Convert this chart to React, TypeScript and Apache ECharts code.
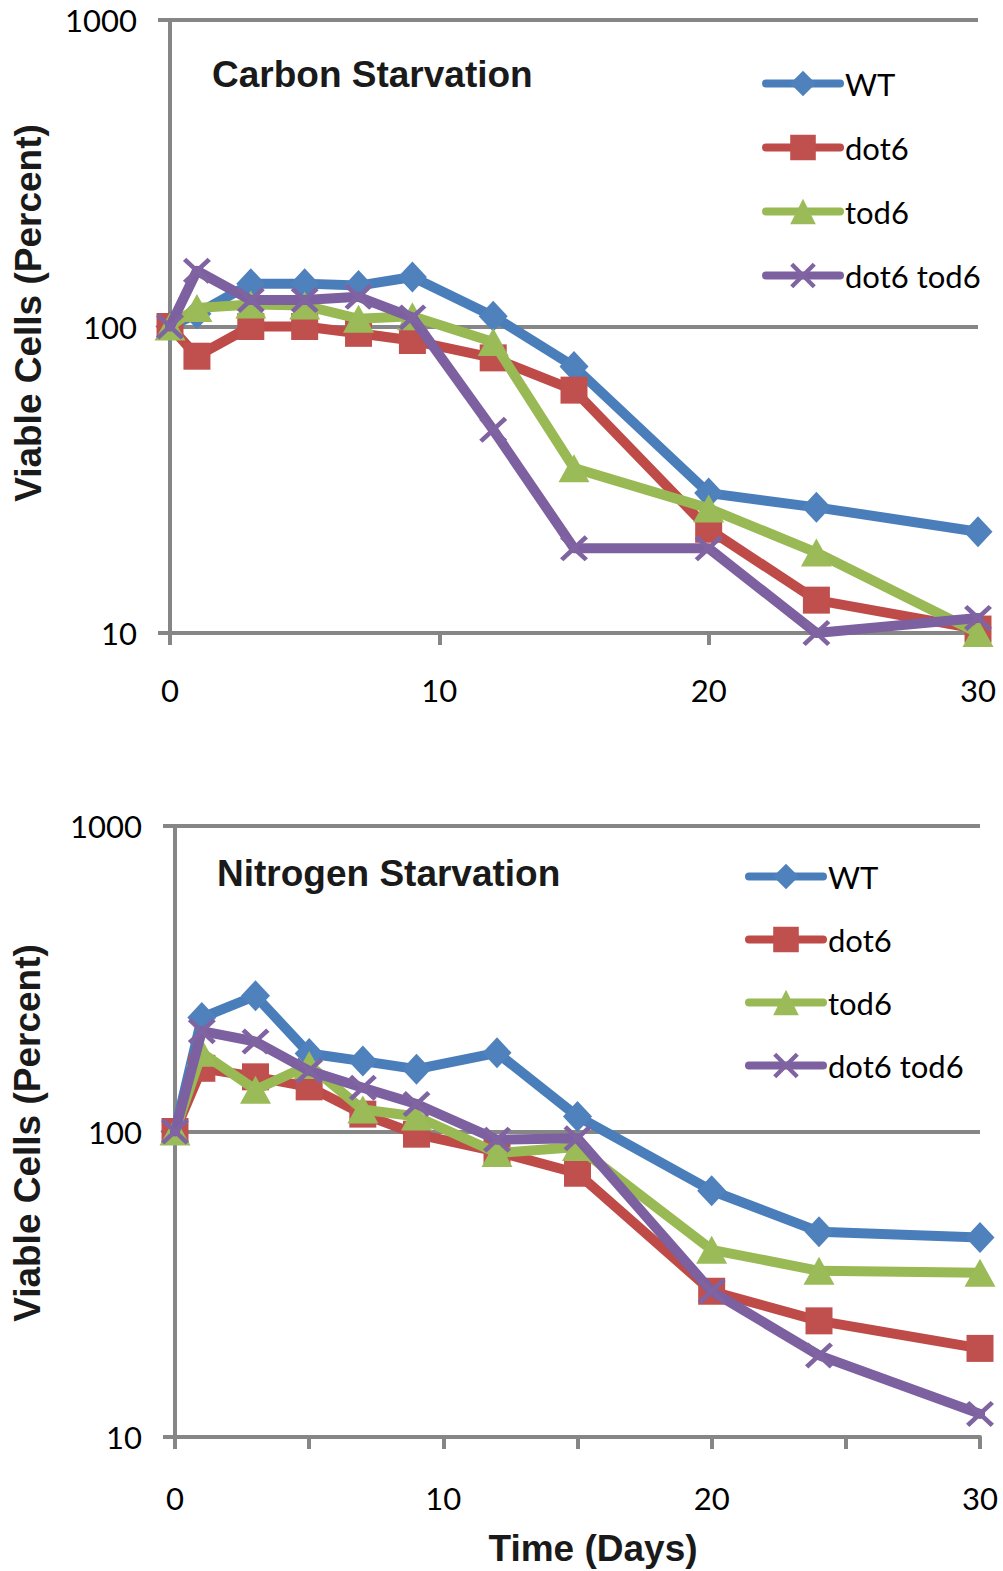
import React, { useEffect, useRef } from "react";
import * as echarts from "echarts";

const days = [0, 1, 3, 5, 7, 9, 12, 15, 20, 24, 30];
const seriesNames = ["WT", "dot6", "tod6", "dot6 tod6"];

const carbonWT = [100, 110, 138, 138, 136, 145, 108, 74, 28.6, 25.7, 21.4];
const carbonDot6 = [100, 80, 100, 100, 95, 90, 79, 62, 21.8, 12.8, 10.3];
const carbonTod6 = [100, 115, 118, 117, 106, 108, 89, 34.5, 25.5, 18.3, 10.0];
const carbonDouble = [100, 152, 122, 122, 125, 107, 46, 18.9, 18.9, 10, 11.2];

const nitrogenWT = [100, 236, 278, 180, 170, 160, 181, 112, 64, 47, 45];
const nitrogenDot6 = [100, 161, 151, 140, 114, 98, 86, 73, 30, 24, 19.5];
const nitrogenTod6 = [100, 181, 137, 165, 118, 112, 85, 89, 41, 35, 34.5];
const nitrogenDouble = [100, 213, 197, 158, 139, 123, 94, 95, 30, 18.5, 11.9];

const yTickValues = [10, 100, 1000];
const xLabelValues = [0, 10, 20, 30];

const lineColors = ["#4A7EBB", "#BE4B48", "#98B954", "#7D60A0"];
const markerColors = ["#4F81BD", "#C0504D", "#9BBB59", "#8064A2"];
const symbols = [
  "diamond",
  "rect",
  "triangle",
  "path://M1.2,0 L5,3.8 L8.8,0 L10,1.2 L6.2,5 L10,8.8 L8.8,10 L5,6.2 L1.2,10 L0,8.8 L3.8,5 L0,1.2 Z",
];
const symbolSizes: any[] = [[29, 31], [27, 27], [31, 28], [28, 26]];

const AXIS_GRAY = "#868686";

function makeSeries(values: number[][], gridIdx: number) {
  return values.map((vals, i) => ({
    name: seriesNames[i],
    type: "line",
    xAxisIndex: gridIdx,
    yAxisIndex: gridIdx,
    data: days.map((d, k) => [d, vals[k]]),
    symbol: symbols[i],
    symbolSize: symbolSizes[i],
    showSymbol: true,
    clip: false,
    z: 2 + i,
    lineStyle: { color: lineColors[i], width: 10, cap: "round", join: "round" },
    itemStyle: { color: markerColors[i] },
    emphasis: { disabled: true },
  }));
}

function yAxis(gridIdx: number) {
  return {
    type: "log",
    logBase: 10,
    gridIndex: gridIdx,
    min: yTickValues[0],
    max: yTickValues[yTickValues.length - 1],
    axisLine: { show: true, lineStyle: { color: AXIS_GRAY, width: 4 } },
    axisTick: { show: true, length: 12, lineStyle: { color: AXIS_GRAY, width: 4 } },
    axisLabel: {
      fontFamily: "Lato",
      fontSize: 31,
      color: "#000",
      margin: 33,
      formatter: (v: number) => (yTickValues.includes(Math.round(v)) ? String(Math.round(v)) : ""),
    },
    splitLine: { show: true, lineStyle: { color: AXIS_GRAY, width: 4 } },
  };
}

function xAxis(gridIdx: number, interval: number, margin: number) {
  return {
    type: "value",
    gridIndex: gridIdx,
    min: 0,
    max: 30,
    interval,
    axisLine: { show: true, lineStyle: { color: AXIS_GRAY, width: 4 } },
    axisTick: { show: true, length: 12, lineStyle: { color: AXIS_GRAY, width: 4 } },
    axisLabel: {
      fontFamily: "Lato",
      fontSize: 31,
      color: "#000",
      margin,
      formatter: (v: number) => (xLabelValues.includes(v) ? String(v) : ""),
    },
    splitLine: { show: false },
  };
}

function legend(left: number, top: number, gap: number) {
  return {
    orient: "vertical",
    left,
    top,
    padding: 0,
    itemWidth: 74,
    itemHeight: 32,
    itemGap: gap,
    data: seriesNames,
    selectedMode: false,
    lineStyle: { width: 8 },
    textStyle: { fontFamily: "Lato", fontSize: 31, color: "#000", padding: [0, 0, 0, 0] },
  };
}

const titleFont = '"Liberation Sans", Arial, sans-serif';

export default function App() {
  const ref = useRef<HTMLDivElement>(null);
  useEffect(() => {
    document.body.style.margin = "0";
    if (!ref.current) return;
    const chart = echarts.init(ref.current, null, { renderer: "svg" });
    chart.setOption({
      animation: false,
      backgroundColor: "#fff",
      grid: [
        { left: 170, top: 20, width: 808, height: 613 },
        { left: 175, top: 826, width: 805, height: 611 },
      ],
      xAxis: [xAxis(0, 10, 41), xAxis(1, 5, 45)],
      yAxis: [yAxis(0), yAxis(1)],
      legend: [legend(762, 68, 33), legend(745, 861, 32)],
      series: [
        ...makeSeries([carbonWT, carbonDot6, carbonTod6, carbonDouble], 0),
        ...makeSeries([nitrogenWT, nitrogenDot6, nitrogenTod6, nitrogenDouble], 1),
      ],
      graphic: [
        {
          type: "text",
          left: 212,
          top: 56,
          style: { text: "Carbon Starvation", font: `bold 37px ${titleFont}`, fill: "#1a1a1a" },
        },
        {
          type: "text",
          left: 217,
          top: 855,
          style: { text: "Nitrogen Starvation", font: `bold 37px ${titleFont}`, fill: "#1a1a1a" },
        },
        {
          type: "text",
          x: 28,
          y: 313,
          rotation: Math.PI / 2,
          style: {
            text: "Viable Cells (Percent)",
            font: `bold 37px ${titleFont}`,
            fill: "#1a1a1a",
            align: "center",
            verticalAlign: "middle",
          },
        },
        {
          type: "text",
          x: 27,
          y: 1133,
          rotation: Math.PI / 2,
          style: {
            text: "Viable Cells (Percent)",
            font: `bold 37px ${titleFont}`,
            fill: "#1a1a1a",
            align: "center",
            verticalAlign: "middle",
          },
        },
        {
          type: "text",
          x: 593,
          y: 1548,
          style: {
            text: "Time (Days)",
            font: `bold 37px ${titleFont}`,
            fill: "#1a1a1a",
            align: "center",
            verticalAlign: "middle",
          },
        },
      ],
    });
    return () => chart.dispose();
  }, []);
  return <div ref={ref} style={{ width: 1003, height: 1571 }} />;
}
